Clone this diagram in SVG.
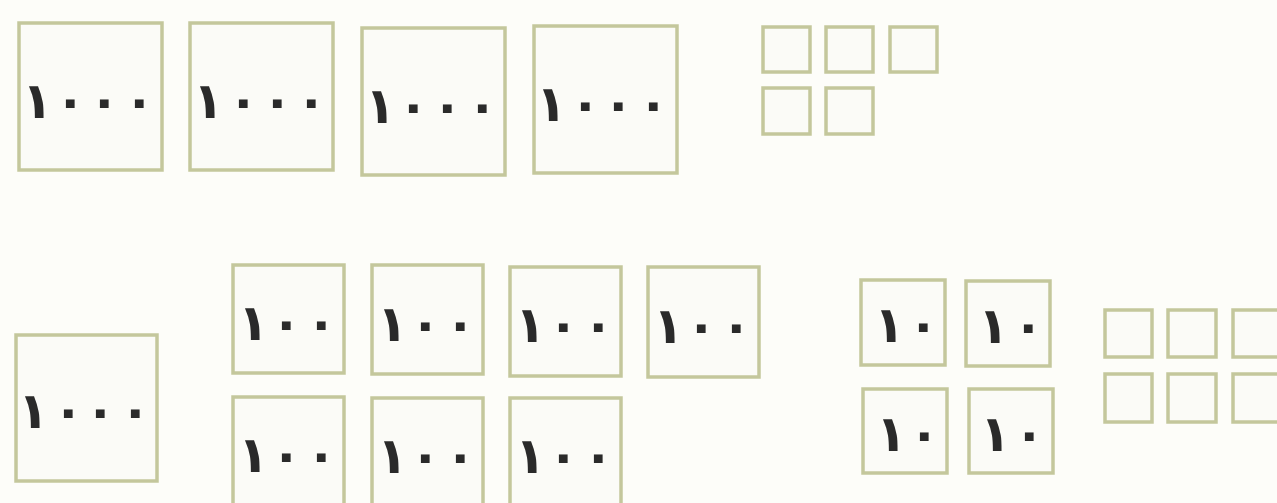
<svg xmlns="http://www.w3.org/2000/svg" width="1277" height="503" viewBox="0 0 1277 503">
<style>
.b{fill:#fbfbf7;stroke:#c4c79c;stroke-width:3.5}
.t{font-family:"DejaVu Sans",sans-serif;font-size:50px;font-weight:bold;fill:#2a2a2a}
</style>
<rect x="0" y="0" width="1277" height="503" fill="#fdfdf9"/>
<g id="top-thousands">
<g id="t1"><rect class="b" x="19" y="23" width="143" height="147"/><text class="t" x="22 55 89 124" y="118">١٠٠٠</text></g>
<g id="t2"><rect class="b" x="190" y="23" width="143" height="147"/><text class="t" x="193 228 262 296" y="118">١٠٠٠</text></g>
<g id="t3"><rect class="b" x="362" y="28" width="143" height="147"/><text class="t" x="365 398 432 467" y="123">١٠٠٠</text></g>
<g id="t4"><rect class="b" x="534" y="26" width="143" height="147"/><text class="t" x="536 570 603 638" y="121">١٠٠٠</text></g>
</g>
<g id="top-ones">
<rect class="b" x="763" y="27" width="47" height="45"/>
<rect class="b" x="826" y="27" width="47" height="45"/>
<rect class="b" x="890" y="27" width="47" height="45"/>
<rect class="b" x="763" y="88" width="47" height="46"/>
<rect class="b" x="826" y="88" width="47" height="46"/>
</g>
<g id="bottom-thousand">
<rect class="b" x="16" y="335" width="141" height="146"/><text class="t" x="18 53 85 120" y="428">١٠٠٠</text>
</g>
<g id="hundreds">
<g id="h1"><rect class="b" x="233" y="265" width="111" height="108"/><text class="t" x="238 271 306" y="340">١٠٠</text></g>
<g id="h2"><rect class="b" x="372" y="265" width="111" height="109"/><text class="t" x="377 410 445" y="341">١٠٠</text></g>
<g id="h3"><rect class="b" x="510" y="267" width="111" height="109"/><text class="t" x="515 548 583" y="342">١٠٠</text></g>
<g id="h4"><rect class="b" x="648" y="267" width="111" height="110"/><text class="t" x="653 686 721" y="343">١٠٠</text></g>
<g id="h5"><rect class="b" x="233" y="397" width="111" height="112"/><text class="t" x="238 271 306" y="472">١٠٠</text></g>
<g id="h6"><rect class="b" x="372" y="398" width="111" height="112"/><text class="t" x="377 410 445" y="473">١٠٠</text></g>
<g id="h7"><rect class="b" x="510" y="398" width="111" height="112"/><text class="t" x="515 548 583" y="473">١٠٠</text></g>
</g>
<g id="tens">
<g id="d1"><rect class="b" x="861" y="280" width="84" height="85"/><text class="t" x="874 908" y="342">١٠</text></g>
<g id="d2"><rect class="b" x="966" y="281" width="84" height="85"/><text class="t" x="978 1013" y="343">١٠</text></g>
<g id="d3"><rect class="b" x="863" y="389" width="84" height="84"/><text class="t" x="876 909" y="451">١٠</text></g>
<g id="d4"><rect class="b" x="969" y="389" width="84" height="84"/><text class="t" x="980 1014" y="451">١٠</text></g>
</g>
<g id="bottom-ones">
<rect class="b" x="1105" y="310" width="47" height="47"/>
<rect class="b" x="1168" y="310" width="48" height="47"/>
<rect class="b" x="1233" y="310" width="48" height="47"/>
<rect class="b" x="1105" y="374" width="47" height="48"/>
<rect class="b" x="1168" y="374" width="48" height="48"/>
<rect class="b" x="1233" y="374" width="48" height="48"/>
</g>
</svg>
